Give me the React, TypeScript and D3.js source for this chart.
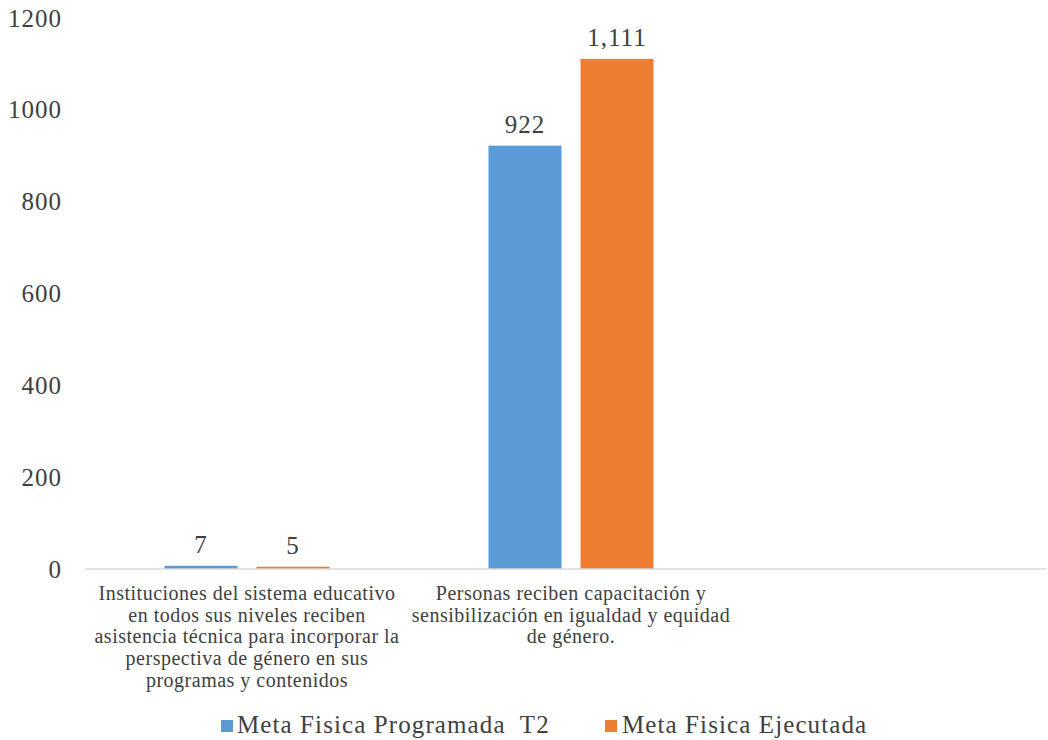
import React from "react";
import * as d3 from "d3";

const categories: string[][] = [
  [
    "Instituciones del sistema educativo",
    "en todos sus niveles reciben",
    "asistencia técnica para incorporar la",
    "perspectiva de género en sus",
    "programas y contenidos",
  ],
  [
    "Personas reciben capacitación y",
    "sensibilización en igualdad y equidad",
    "de género.",
  ],
  [],
];
const seriesNames = ["Meta Fisica Programada  T2", "Meta Fisica Ejecutada"];
const programada = [7, 922, null];
const ejecutada = [5, 1111, null];
const colors = ["#5B9BD5", "#ED7D31"];
const yTicks = [0, 200, 400, 600, 800, 1000, 1200];

const W = 1048;
const H = 740;
const left = 85;
const right = 1057;
const top = 18;
const bottom = 569;
const font = '"Liberation Serif"';

export default function App() {
  const x = d3
    .scaleBand<number>()
    .domain(categories.map((_, i) => i))
    .range([left, right])
    .paddingInner(0)
    .paddingOuter(0);
  const y = d3.scaleLinear().domain([0, 1200]).range([bottom, top]);
  const inner = d3
    .scaleBand<number>()
    .domain([0, 1])
    .range([0, x.bandwidth()])
    .paddingInner(0.2065)
    .paddingOuter(0.864);
  const fmt = d3.format(",");
  const series = [programada, ejecutada];
  const txt = { fontFamily: font, whiteSpace: "pre" as const };

  return (
    <svg
      width={W}
      height={H}
      style={{ position: "absolute", left: 0, top: 0, background: "#fff" }}
    >
      {yTicks.map((t) => (
        <text
          key={t}
          x={62}
          y={y(t)}
          dy="0.34em"
          textAnchor="end"
          fontSize={25}
          letterSpacing={1}
          fill="#404040"
          style={txt}
        >
          {t}
        </text>
      ))}
      {series.map((vals, si) =>
        vals.map((v, ci) =>
          v == null ? null : (
            <g key={`${si}-${ci}`}>
              <rect
                x={(x(ci) as number) + (inner(si) as number)}
                y={y(v)}
                width={inner.bandwidth()}
                height={Math.max(bottom - y(v), 0)}
                fill={colors[si]}
              />
              <text
                x={(x(ci) as number) + (inner(si) as number) + inner.bandwidth() / 2}
                y={y(v) - 13}
                textAnchor="middle"
                fontSize={25}
                letterSpacing={1}
                fill="#404040"
                style={txt}
              >
                {fmt(v)}
              </text>
            </g>
          )
        )
      )}
      <line x1={left} x2={1046} y1={bottom} y2={bottom} stroke="#D9D9D9" strokeWidth={1.5} />
      {categories.map((lines, ci) => (
        <text
          key={ci}
          x={(x(ci) as number) + x.bandwidth() / 2}
          textAnchor="middle"
          fontSize={20}
          letterSpacing={0.5}
          fill="#404040"
          style={txt}
        >
          {lines.map((l, li) => (
            <tspan key={li} x={(x(ci) as number) + x.bandwidth() / 2} y={600 + li * 21.7}>
              {l}
            </tspan>
          ))}
        </text>
      ))}
      <g>
        <rect x={221} y={720} width={12} height={12} fill={colors[0]} />
        <text x={237} y={733} fontSize={25} letterSpacing={1.1} fill="#404040" style={txt}>
          {seriesNames[0]}
        </text>
        <rect x={605} y={720} width={12} height={12} fill={colors[1]} />
        <text x={622} y={733} fontSize={25} letterSpacing={1.1} fill="#404040" style={txt}>
          {seriesNames[1]}
        </text>
      </g>
    </svg>
  );
}
